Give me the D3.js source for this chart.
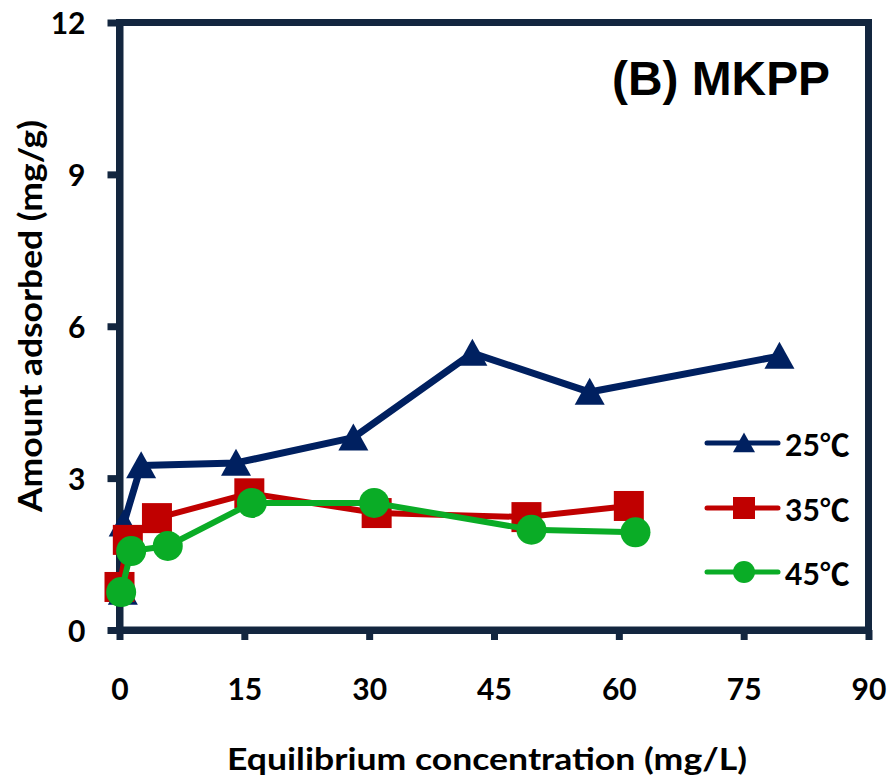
<!DOCTYPE html>
<html>
<head>
<meta charset="utf-8">
<script src="https://cdn.jsdelivr.net/npm/d3@7"></script>
<style>
  html, body { margin: 0; padding: 0; background: #fff; }
  svg { display: block; }
</style>
</head>
<body>
<div id="chart"></div>
<script>
// Adsorption isotherms of MKPP at three temperatures
const series = ["25℃", "35℃", "45℃"];
const colors = ["#002060", "#C00000", "#0AAC26"];
const shapes = ["triangle", "square", "circle"];

// Equilibrium concentration (mg/L) and amount adsorbed (mg/g)
const ce25 = [0.4, 0.5, 2.6, 14.0, 28.1, 42.4, 56.5, 79.3];
const qe25 = [0.75, 2.1, 3.25, 3.3, 3.8, 5.47, 4.7, 5.41];
const ce35 = [0.0, 1.0, 4.5, 15.6, 30.9, 48.9, 61.2];
const qe35 = [0.85, 1.78, 2.21, 2.7, 2.31, 2.23, 2.45];
const ce45 = [0.2, 1.4, 5.8, 15.9, 30.6, 49.5, 62.0];
const qe45 = [0.75, 1.56, 1.66, 2.51, 2.51, 1.98, 1.93];

const xTicks = [0, 15, 30, 45, 60, 75, 90];
const yTicks = [0, 3, 6, 9, 12];

const panelTitle = "(B) MKPP";
const xTitle = "Equilibrium concentration (mg/L)";
const yTitle = "Amount adsorbed (mg/g)";

const data = [
  ce25.map((c, i) => ({ x: c, y: qe25[i] })),
  ce35.map((c, i) => ({ x: c, y: qe35[i] })),
  ce45.map((c, i) => ({ x: c, y: qe45[i] }))
];

const W = 890, H = 778;
const plotL = 119.5, plotR = 868.5, plotT = 22.5, plotB = 630;
const axisColor = "#13263F";
const labelFont = "Lato, 'Noto Sans CJK SC', sans-serif";

const svg = d3.select("#chart").append("svg")
  .attr("width", W).attr("height", H);

const x = d3.scaleLinear().domain([0, 90]).range([plotL, plotR]);
const y = d3.scaleLinear().domain([0, 12]).range([plotB, plotT]);

// plot frame
svg.append("rect")
  .attr("x", plotL).attr("y", plotT)
  .attr("width", plotR - plotL).attr("height", plotB - plotT)
  .attr("fill", "none").attr("stroke", axisColor).attr("stroke-width", 7);

// x axis
const gx = svg.append("g").attr("transform", `translate(0,${plotB})`)
  .call(d3.axisBottom(x).tickValues(xTicks).tickSize(10).tickSizeOuter(0));
gx.select(".domain").attr("stroke", axisColor).attr("stroke-width", 7);
gx.selectAll(".tick line").attr("stroke", axisColor).attr("stroke-width", 7);
gx.selectAll(".tick text")
  .attr("y", 70).attr("dy", 0)
  .attr("fill", "#000")
  .style("font-family", labelFont).style("font-weight", 700).style("font-size", "30px");

// y axis
const gy = svg.append("g").attr("transform", `translate(${plotL},0)`)
  .call(d3.axisLeft(y).tickValues(yTicks).tickSize(12).tickSizeOuter(0));
gy.select(".domain").attr("stroke", axisColor).attr("stroke-width", 7);
gy.selectAll(".tick line").attr("stroke", axisColor).attr("stroke-width", 7);
gy.selectAll(".tick text")
  .attr("x", -34).attr("dy", 11)
  .attr("fill", "#000")
  .style("font-family", labelFont).style("font-weight", 700).style("font-size", "30px");
svg.selectAll(".tick line").attr("stroke-linecap", "butt");

// axis titles
svg.append("text")
  .attr("x", 227).attr("y", 770)
  .attr("textLength", 520).attr("lengthAdjust", "spacingAndGlyphs")
  .style("font-family", labelFont).style("font-weight", 700).style("font-size", "30px")
  .text(xTitle);

svg.append("text")
  .attr("transform", "translate(42,316) rotate(-90)")
  .attr("text-anchor", "middle")
  .attr("textLength", 392).attr("lengthAdjust", "spacingAndGlyphs")
  .style("font-family", labelFont).style("font-weight", 700).style("font-size", "32px")
  .text(yTitle);

// panel label
svg.append("text")
  .attr("x", 612).attr("y", 95)
  .attr("textLength", 218).attr("lengthAdjust", "spacingAndGlyphs")
  .style("font-family", "'Liberation Sans', Arial, sans-serif")
  .style("font-weight", 700).style("font-size", "48px")
  .text(panelTitle);

// marker drawing
function marker(g, shape, color, size) {
  const s = size / 2;
  if (shape === "triangle") {
    g.append("path")
      .attr("d", `M0,${-s * 0.95}L${s},${s * 0.85}L${-s},${s * 0.85}Z`)
      .attr("fill", color);
  } else if (shape === "square") {
    g.append("rect").attr("x", -s).attr("y", -s)
      .attr("width", size).attr("height", size).attr("fill", color);
  } else {
    g.append("circle").attr("r", s).attr("fill", color);
  }
}

const line = d3.line().x(d => x(d.x)).y(d => y(d.y));
const lineWidths = [7, 6, 6];

data.forEach((pts, i) => {
  const g = svg.append("g");
  g.append("path").datum(pts)
    .attr("d", line)
    .attr("fill", "none")
    .attr("stroke", colors[i])
    .attr("stroke-width", lineWidths[i])
    .attr("stroke-linejoin", "round");
  pts.forEach(p => {
    const m = g.append("g").attr("transform", `translate(${x(p.x)},${y(p.y)})`);
    marker(m, shapes[i], colors[i], 30);
  });
});

// legend
const legendRows = [443, 508, 572];
series.forEach((name, i) => {
  const g = svg.append("g").attr("transform", `translate(0,${legendRows[i]})`);
  g.append("line").attr("x1", 707).attr("x2", 778).attr("y1", 0).attr("y2", 0)
    .attr("stroke", colors[i]).attr("stroke-width", 5).attr("stroke-linecap", "round");
  const m = g.append("g").attr("transform", "translate(744,0)");
  marker(m, shapes[i], colors[i], 22);
  g.append("text").attr("x", 785).attr("y", 13)
    .style("font-family", labelFont).style("font-weight", 700).style("font-size", "30px")
    .text(name);
});
</script>
</body>
</html>
